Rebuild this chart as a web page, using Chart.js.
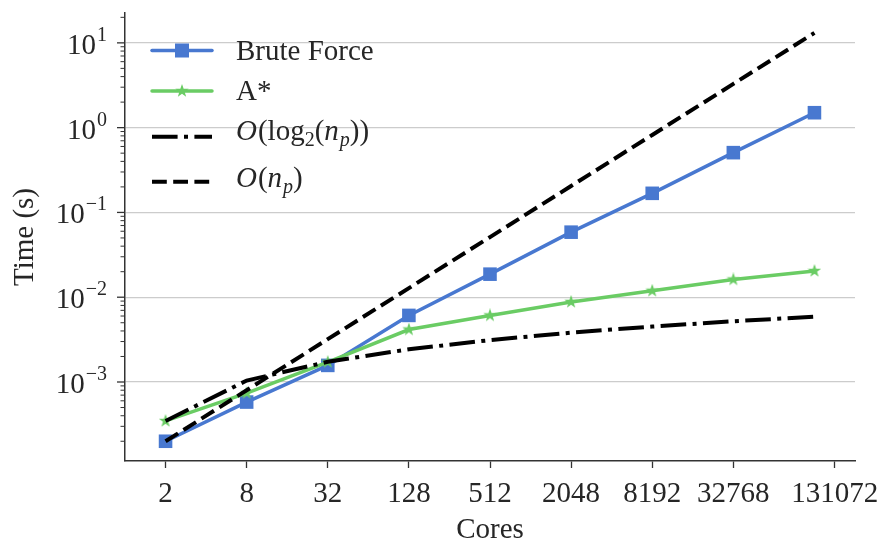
<!DOCTYPE html>
<html>
<head>
<meta charset="utf-8">
<script src="https://cdn.jsdelivr.net/npm/chart.js@4/dist/chart.umd.min.js"></script>
<style>
  html, body { margin: 0; padding: 0; background: #ffffff; }
  #wrap { width: 881px; height: 539px; }
</style>
</head>
<body>
<div id="wrap"><canvas id="chart" width="881" height="539"></canvas></div>
<script>
// Core counts (x) and their tick labels
const cores = [2, 8, 32, 128, 512, 2048, 8192, 32768, 131072];
const coreTickLabels = ['2', '8', '32', '128', '512', '2048', '8192', '32768', '131072'];

// Run times in seconds
const bruteForce = [2.0e-4, 5.8e-4, 1.57e-3, 6.1e-3, 0.0187, 0.0585, 0.168, 0.507, 1.50];
const aStar      = [3.47e-4, 7.4e-4, 1.72e-3, 4.16e-3, 6.1e-3, 8.8e-3, 0.0119, 0.0162, 0.0204];

// Reference scaling curves
const logRef = [3.47e-4, 1.04e-3, 1.73e-3, 2.43e-3, 3.12e-3, 3.82e-3, 4.51e-3, 5.2e-3, 5.9e-3];
const linRef = [2.0e-4, 8.0e-4, 3.2e-3, 0.0128, 0.0512, 0.205, 0.82, 3.28, 13.1];

const BLUE = '#4878d0';
const GREEN = '#6acc64';
const TEXT = '#262626';
const SPINE = '#333333';
const SERIF = '"Liberation Serif", "DejaVu Serif", serif';

// filled five-pointed star marker
function makeStar(size, color) {
  const c = document.createElement('canvas');
  c.width = size; c.height = size;
  const g = c.getContext('2d');
  const cx = size / 2, cy = size / 2, ro = size / 2, ri = ro * 0.4;
  g.beginPath();
  for (let i = 0; i < 10; i++) {
    const r = i % 2 === 0 ? ro : ri;
    const a = -Math.PI / 2 + i * Math.PI / 5;
    const px = cx + r * Math.cos(a), py = cy + r * Math.sin(a);
    if (i === 0) g.moveTo(px, py); else g.lineTo(px, py);
  }
  g.closePath();
  g.fillStyle = color;
  g.fill();
  return c;
}
const starImg = makeStar(14, GREEN);

const toPoints = vals => vals.map((v, i) => ({ x: Math.log2(cores[i]), y: v }));

const dashLin = [14.8, 6.4];
const dashLog = [25.6, 6.4, 4, 6.4];

// y-axis tick marks (major + minor) and 10^k labels
const yAxisDecor = {
  id: 'yAxisDecor',
  afterDraw(chart) {
    const ctx = chart.ctx;
    const ys = chart.scales.y;
    const x0 = chart.chartArea.left;
    ctx.save();
    ys.ticks.forEach(t => {
      const v = t.value;
      const e = Math.log10(v);
      const major = Math.abs(e - Math.round(e)) < 1e-9;
      const py = ys.getPixelForValue(v);
      ctx.strokeStyle = SPINE;
      ctx.lineWidth = major ? 1.3 : 1;
      ctx.beginPath();
      ctx.moveTo(x0 - (major ? 8 : 4.5), py);
      ctx.lineTo(x0, py);
      ctx.stroke();
      if (major) {
        const k = Math.round(e);
        const expText = k < 0 ? '\u2212' + Math.abs(k) : String(k);
        ctx.fillStyle = TEXT;
        ctx.textBaseline = 'alphabetic';
        ctx.textAlign = 'right';
        ctx.font = '20px ' + SERIF;
        const right = x0 - 18;
        const ew = ctx.measureText(expText).width;
        ctx.fillText(expText, right, py - 2);
        ctx.font = '29px ' + SERIF;
        ctx.fillText('10', right - ew - 1, py + 11);
      }
    });
    ctx.restore();
  }
};

// legend with math-style labels
const legendRows = [
  { type: 'rect', color: BLUE, dash: [], lw: 3.5, lineY: 50.5, base: 60,
    parts: [['Brute Force', 'n']] },
  { type: 'star', color: GREEN, dash: [], lw: 3.5, lineY: 91, base: 100,
    parts: [['A*', 'n']] },
  { type: 'none', color: '#000', dash: dashLog, lw: 4, lineY: 136.7, base: 140,
    parts: [['O', 'i'], ['(log', 'n'], ['2', 's'], ['(', 'n'], ['n', 'i'], ['p', 'si'], ['))', 'n']] },
  { type: 'none', color: '#000', dash: dashLin, lw: 4, lineY: 181.7, base: 186.5,
    parts: [['O', 'i'], ['(', 'n'], ['n', 'i'], ['p', 'si'], [')', 'n']] }
];
const mathLegend = {
  id: 'mathLegend',
  afterDraw(chart) {
    const ctx = chart.ctx;
    ctx.save();
    legendRows.forEach(r => {
      ctx.strokeStyle = r.color;
      ctx.lineWidth = r.lw;
      ctx.lineCap = r.dash.length ? 'butt' : 'round';
      ctx.setLineDash(r.dash);
      ctx.beginPath();
      ctx.moveTo(152, r.lineY);
      ctx.lineTo(212, r.lineY);
      ctx.stroke();
      ctx.setLineDash([]);
      if (r.type === 'rect') {
        ctx.fillStyle = r.color;
        ctx.fillRect(182 - 7, r.lineY - 7, 14, 14);
      } else if (r.type === 'star') {
        ctx.drawImage(starImg, 182 - 7, r.lineY - 7);
      }
      let x = 236;
      ctx.fillStyle = TEXT;
      ctx.textAlign = 'left';
      ctx.textBaseline = 'alphabetic';
      r.parts.forEach(([txt, st]) => {
        let font, dy = 0;
        if (st === 'n') font = '29px ' + SERIF;
        else if (st === 'i') font = 'italic 29px ' + SERIF;
        else if (st === 's') { font = '20px ' + SERIF; dy = 6; }
        else { font = 'italic 20px ' + SERIF; dy = 6; }
        ctx.font = font;
        ctx.fillText(txt, x, r.base + dy);
        x += ctx.measureText(txt).width + (st === 'i' ? 1 : 0);
      });
    });
    ctx.restore();
  }
};

new Chart(document.getElementById('chart'), {
  type: 'line',
  data: {
    datasets: [
      { label: 'Brute Force', data: toPoints(bruteForce), borderColor: BLUE, backgroundColor: BLUE,
        borderWidth: 3.5, pointStyle: 'rect', pointRadius: 9.6, pointBorderWidth: 0,
        pointBackgroundColor: BLUE, order: 4 },
      { label: 'A*', data: toPoints(aStar), borderColor: GREEN, backgroundColor: GREEN,
        borderWidth: 3.5, pointStyle: starImg, pointRadius: 7, order: 3 },
      { label: 'O(log2(np))', data: toPoints(logRef), borderColor: '#000000',
        borderWidth: 4, borderDash: dashLog, borderCapStyle: 'butt', pointRadius: 0, order: 2 },
      { label: 'O(np)', data: toPoints(linRef), borderColor: '#000000',
        borderWidth: 4, borderDash: dashLin, borderCapStyle: 'butt', pointRadius: 0, order: 1 }
    ]
  },
  options: {
    responsive: false,
    animation: false,
    devicePixelRatio: 1,
    layout: { padding: { top: 13, right: 26, left: 0, bottom: 0 } },
    plugins: { legend: { display: false }, tooltip: { enabled: false } },
    elements: { line: { tension: 0, fill: false } },
    scales: {
      x: {
        type: 'linear', min: 0, max: 18,
        afterBuildTicks: s => {
          // the last label sits half a step past its point
          s.ticks = cores.map((c, i) => ({ value: Math.log2(c) + (i === cores.length - 1 ? 0.5 : 0) }));
        },
        afterFit: s => { s.height = 78; s.paddingLeft = 0; s.paddingRight = 0; },
        ticks: {
          autoSkip: false, maxRotation: 0, padding: 9, color: TEXT,
          font: { family: SERIF, size: 29 },
          callback: (v, i) => coreTickLabels[i]
        },
        grid: { drawOnChartArea: false, drawTicks: true, tickLength: 7, tickColor: SPINE, tickWidth: 1.3 },
        border: { display: true, color: SPINE, width: 1.5 },
        title: { display: true, text: 'Cores', color: TEXT, font: { family: SERIF, size: 29 },
                 padding: { top: 0, bottom: -9 } }
      },
      y: {
        type: 'logarithmic', min: 1.17e-4, max: 22.5,
        afterBuildTicks: s => {
          const t = [];
          for (let e = -4; e <= 1; e++) {
            for (let m = 1; m <= 9; m++) {
              const v = m * Math.pow(10, e);
              if (v >= s.min && v <= s.max) t.push({ value: v, major: m === 1 });
            }
          }
          s.ticks = t;
        },
        afterFit: s => { s.width = 125; s.paddingTop = 0; s.paddingBottom = 0; },
        ticks: { display: false, autoSkip: false },
        grid: {
          drawTicks: false,
          lineWidth: 1.3,
          color: c => {
            const v = c.tick ? c.tick.value : 0;
            const e = Math.log10(v);
            return Math.abs(e - Math.round(e)) < 1e-9 ? '#cccccc' : 'rgba(0,0,0,0)';
          }
        },
        border: { display: true, color: SPINE, width: 1.5 },
        title: { display: true, text: 'Time (s)', color: TEXT, font: { family: SERIF, size: 29 },
                 padding: { top: 8, bottom: 0 } }
      }
    }
  },
  plugins: [yAxisDecor, mathLegend]
});
</script>
</body>
</html>
